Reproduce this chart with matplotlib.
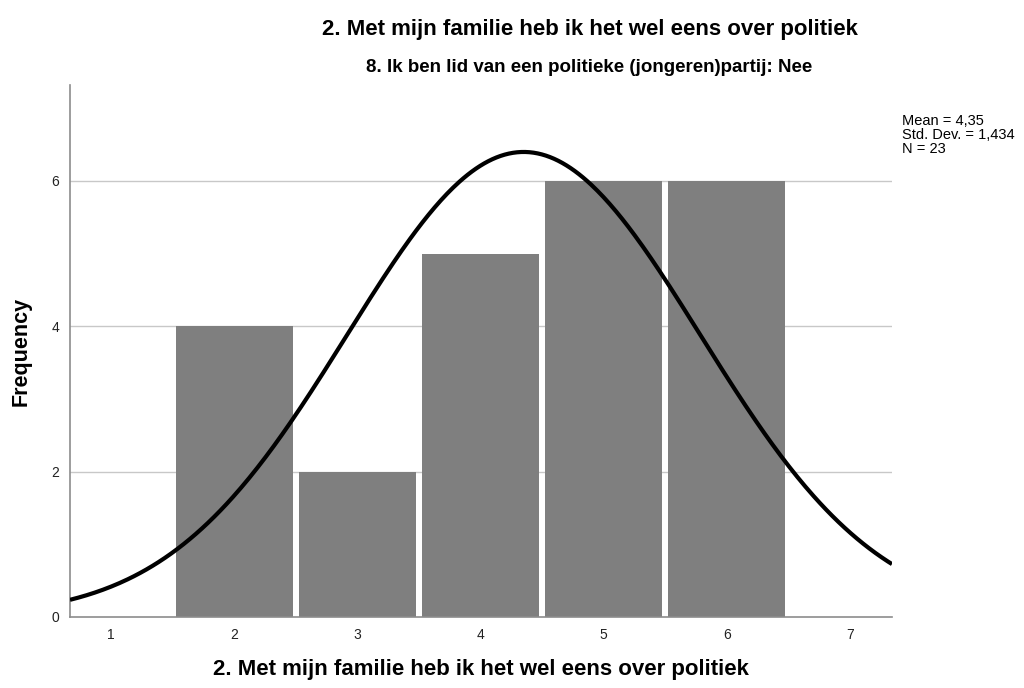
import numpy as np
import matplotlib
matplotlib.use("Agg")
import matplotlib.pyplot as plt

plt.rcParams['font.family'] = ['Liberation Sans', 'DejaVu Sans']

categories = [2, 3, 4, 5, 6]
frequencies = [4, 2, 5, 6, 6]
x_ticks = [1, 2, 3, 4, 5, 6, 7]
y_ticks = [0, 2, 4, 6]
mean_val = 4.35
std_val = 1.434
n_val = 23

title = "2. Met mijn familie heb ik het wel eens over politiek"
subtitle = "8. Ik ben lid van een politieke (jongeren)partij: Nee"
xlabel = "2. Met mijn familie heb ik het wel eens over politiek"
ylabel = "Frequency"
stats_text = "Mean = 4,35\nStd. Dev. = 1,434\nN = 23"

fig = plt.figure(figsize=(10.24, 6.88), dpi=100)
ax = fig.add_axes([70/1024, 1-617/688, (892-70)/1024, (617-85)/688])

xmin, xmax = 0.667, 7.34
ymin, ymax = 0, 7.32
ax.set_xlim(xmin, xmax)
ax.set_ylim(ymin, ymax)

for y in y_ticks[1:]:
    ax.axhline(y, color='#c8c8c8', linewidth=1.0, zorder=0)

ax.bar(categories, frequencies, width=0.95, color='#7f7f7f', edgecolor='none', zorder=2)

xs = np.linspace(xmin, xmax, 400)
pdf = n_val * 1.0 / (std_val * np.sqrt(2 * np.pi)) * np.exp(-0.5 * ((xs - mean_val) / std_val) ** 2)
ax.plot(xs, pdf, color='black', linewidth=3.0, zorder=3, solid_capstyle='butt')

ax.set_xticks(x_ticks)
ax.set_yticks(y_ticks)
ax.tick_params(axis='both', length=0, labelsize=10, pad=8, colors='#222222')
for s in ['top', 'right']:
    ax.spines[s].set_visible(False)
for s in ['left', 'bottom']:
    ax.spines[s].set_color('#8c8c8c')
    ax.spines[s].set_linewidth(1.2)

ax.set_xlabel(xlabel, fontsize=16, fontweight='bold', labelpad=12)
ax.set_ylabel(ylabel, fontsize=15.5, fontweight='bold', labelpad=14)

fig.text(590/1024, 1-30/688, title, ha='center', va='center', fontsize=16, fontweight='bold')
fig.text(589/1024, 1-68/688, subtitle, ha='center', va='center', fontsize=13.5, fontweight='bold')
fig.text(902/1024, 1-114/688, stats_text, ha='left', va='top', fontsize=10.5, linespacing=1.0)

fig.savefig("out.png", dpi=100, facecolor='white')
